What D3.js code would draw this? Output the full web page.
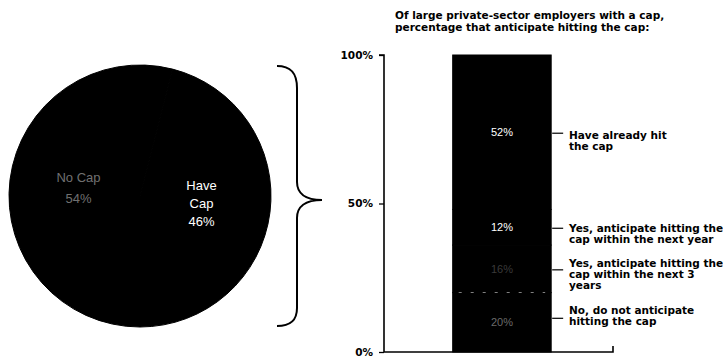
<!DOCTYPE html>
<html>
<head>
<meta charset="utf-8">
<script src="https://cdn.jsdelivr.net/npm/d3@7"></script>
<style>
  html, body { margin: 0; padding: 0; background: #fff; }
  svg { display: block; }
  text { font-family: "Liberation Sans", Arial, sans-serif; }
  .heavy { font-family: "DejaVu Sans", sans-serif; font-weight: bold; }
</style>
</head>
<body>
<svg id="chart" width="723" height="358"></svg>
<script>
// Pie: share of large private-sector employers with / without a cap
const pieCategories = ["No Cap", "Have Cap"];
const pieValues = [54, 46];

// Stacked bar: of those with a cap, whether they expect to hit it
const barCategories = [
  "Have already hit the cap",
  "Yes, anticipate hitting the cap within the next year",
  "Yes, anticipate hitting the cap within the next 3 years",
  "No, do not anticipate hitting the cap"
];
const barValues = [52, 12, 16, 20];
const barLegendLines = [
  ["Have already hit", "the cap"],
  ["Yes, anticipate hitting the", "cap within the next year"],
  ["Yes, anticipate hitting the", "cap within the next 3", "years"],
  ["No, do not anticipate", "hitting the cap"]
];
const yTickValues = [0, 50, 100];
const titleLines = [
  "Of large private-sector employers with a cap,",
  "percentage that anticipate hitting the cap:"
];

const svg = d3.select("#chart");

// ---------- pie ----------
const cx = 140, cy = 196, R = 131;
const pie = d3.pie().sort(null).startAngle(Math.PI).endAngle(3 * Math.PI);
const arcs = pie(pieValues);
const arc = d3.arc().innerRadius(0).outerRadius(R);
const labelArc = d3.arc().innerRadius(124).outerRadius(0);

const pg = svg.append("g").attr("transform", `translate(${cx},${cy})`);
pg.selectAll("path.slice")
  .data(arcs)
  .join("path")
  .attr("class", "slice")
  .attr("d", arc)
  .attr("fill", "#000")
  .attr("stroke", "#000")
  .attr("stroke-width", 1);

const pieLabelLines = arcs.map((a, i) => {
  const words = pieCategories[i].split(" ");
  return (i === 0 ? [pieCategories[i]] : words).concat([pieValues[i] + "%"]);
});
const pieLabelColor = ["#707070", "#ffffff"];
arcs.forEach((a, i) => {
  const [lx, ly] = labelArc.centroid(a);
  const lines = pieLabelLines[i];
  const lh = i === 0 ? 21 : 18;
  const t = pg.append("text")
    .attr("x", lx)
    .attr("text-anchor", "middle")
    .attr("font-size", 13)
    .attr("fill", pieLabelColor[i]);
  lines.forEach((ln, j) => {
    t.append("tspan")
      .attr("x", lx)
      .attr("y", ly + (j - (lines.length - 1) / 2) * lh)
      .attr("dy", "0.35em")
      .text(ln);
  });
});

// ---------- brace ----------
const brace = d3.path();
brace.moveTo(277, 66);
brace.bezierCurveTo(290, 66, 297, 72, 297, 88);
brace.lineTo(297, 182);
brace.bezierCurveTo(297, 193, 305, 200, 322, 200);
brace.bezierCurveTo(305, 200, 297, 207, 297, 218);
brace.lineTo(297, 308);
brace.bezierCurveTo(297, 321, 290, 326, 277, 326);
svg.append("path")
  .attr("d", brace.toString())
  .attr("fill", "none")
  .attr("stroke", "#000")
  .attr("stroke-width", 2);

// ---------- stacked bar ----------
const y = d3.scaleLinear().domain([0, 100]).range([352, 55]);
const x = d3.scaleLinear().domain([0, 1]).range([384, 613]);
const barX0 = x(0.3), barX1 = x(0.73);

// stack from the bottom: last category at the base
const stackRow = {};
barCategories.forEach((c, i) => stackRow[c] = barValues[i]);
const stack = d3.stack().keys(barCategories.slice().reverse());
const series = stack([stackRow]);

const bg = svg.append("g");
bg.selectAll("rect.seg")
  .data(series)
  .join("rect")
  .attr("class", "seg")
  .attr("x", barX0)
  .attr("width", barX1 - barX0)
  .attr("y", d => y(d[0][1]))
  .attr("height", d => y(d[0][0]) - y(d[0][1]))
  .attr("fill", "#000")
  .attr("stroke", "#000")
  .attr("stroke-width", 1);

// faint separation between the two lowest segments
const lowTop = series[0][0][1];
bg.append("line")
  .attr("x1", barX0 + 6).attr("x2", barX1 - 6)
  .attr("y1", y(lowTop)).attr("y2", y(lowTop))
  .attr("stroke", "#fff")
  .attr("stroke-width", 0.8)
  .attr("stroke-dasharray", "3,9")
  .attr("opacity", 0.7);

// value labels inside segments
const valueColor = ["#ffffff", "#ffffff", "#3a3a3a", "#6a6a6a"];
barCategories.forEach((c, i) => {
  const s = series.find(d => d.key === c)[0];
  const mid = (s[0] + s[1]) / 2;
  bg.append("text")
    .attr("x", (barX0 + barX1) / 2)
    .attr("y", y(mid))
    .attr("dy", "0.35em")
    .attr("text-anchor", "middle")
    .attr("font-size", 11)
    .attr("fill", valueColor[i])
    .text(barValues[i] + "%");
});

// legend with leader lines
const legendShift = [3, 1, -6, -12];
const lgLineH = 11;
barCategories.forEach((c, i) => {
  const s = series.find(d => d.key === c)[0];
  const mid = (s[0] + s[1]) / 2;
  const ly = y(mid);
  svg.append("line")
    .attr("x1", barX1 + 1).attr("x2", barX1 + 12)
    .attr("y1", ly + (i === 3 ? -4 : 1)).attr("y2", ly + (i === 3 ? -4 : 1))
    .attr("stroke", "#000").attr("stroke-width", 1.2);
  const t = svg.append("text")
    .attr("class", "heavy")
    .attr("font-size", 10.5)
    .attr("fill", "#000");
  barLegendLines[i].forEach((ln, j) => {
    t.append("tspan")
      .attr("x", 569)
      .attr("y", ly + legendShift[i] + j * lgLineH)
      .attr("dy", "0.35em")
      .text(ln);
  });
});

// axes
const yAxis = d3.axisLeft(y)
  .tickValues(yTickValues)
  .tickSize(5)
  .tickPadding(6)
  .tickFormat(d => d + "%");
const ag = svg.append("g")
  .attr("transform", "translate(384,0)")
  .call(yAxis);
ag.select(".domain").attr("stroke-width", 1.6).attr("d", `M-5,${y(100)}H0V${y(0)}`);
ag.selectAll(".tick line").attr("stroke-width", 1.3);
ag.selectAll(".tick text")
  .attr("class", "heavy")
  .attr("font-family", null)
  .attr("font-size", 10.5)
  .attr("fill", "#000");

// baseline
svg.append("path")
  .attr("d", `M${x(0)},${y(0)}H${x(1)}V${y(0) - 6}`)
  .attr("fill", "none")
  .attr("stroke", "#000")
  .attr("stroke-width", 1.6);

// title
const tt = svg.append("text")
  .attr("class", "heavy")
  .attr("font-size", 10.5)
  .attr("fill", "#000");
titleLines.forEach((ln, j) => {
  tt.append("tspan")
    .attr("x", 395)
    .attr("y", 15 + j * 12)
    .attr("dy", "0.35em")
    .text(ln);
});
</script>
</body>
</html>
